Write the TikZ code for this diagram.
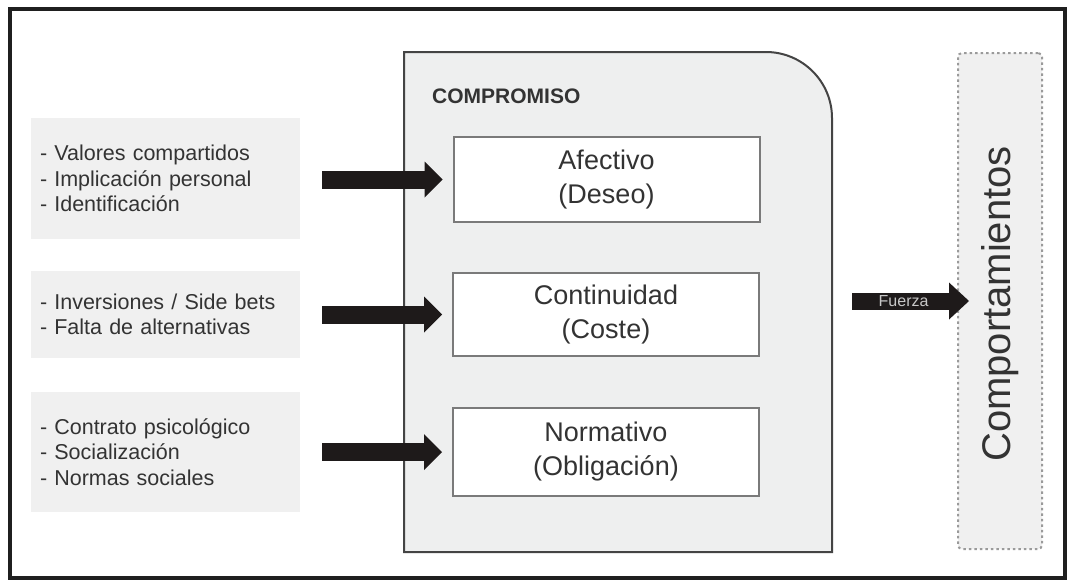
\documentclass[tikz,border=0pt]{standalone}
\usepackage{fontspec}
\setmainfont{Liberation Sans}
\usetikzlibrary{arrows.meta}
\definecolor{txt}{HTML}{333333}
\definecolor{lightfill}{HTML}{F0F0F0}
\definecolor{mainfill}{HTML}{EEEFEF}
\definecolor{mainedge}{HTML}{444444}
\definecolor{inneredge}{HTML}{7A7A7A}
\definecolor{dotedge}{HTML}{9A9A9A}
\definecolor{arrowc}{HTML}{1E1A1A}
\begin{document}
\begin{tikzpicture}[x=1pt,y=-1pt,
  srcbox/.style={fill=lightfill, draw=none, minimum width=269pt, inner xsep=9pt, inner ysep=0pt,
    text width=251pt, align=left, text=txt, font=\fontsize{21.5}{25.5}\selectfont},
  factorbox/.style={fill=white, draw=inneredge, line width=2pt, minimum width=306pt, minimum height=85pt,
    inner sep=0pt, align=center, text=txt, font=\fontsize{27}{34}\selectfont},
  bigarrow/.style={draw=arrowc, line width=18pt, -{Triangle[length=18pt,width=36pt,line width=0pt]}},
  forcearrow/.style={draw=arrowc, line width=17pt, -{Triangle[length=20pt,width=37pt,line width=0pt]}}
]
\useasboundingbox (0,0) rectangle (1068,581);
\fill[white] (0,0) rectangle (1068,581);
\draw[line width=4pt, draw=black!88] (10,9) rectangle (1065,578);

% source boxes
\node[srcbox, minimum height=121pt] (l1) at (165.5,178.5) {- Valores compartidos\\- Implicación personal\\- Identificación};
\node[srcbox, minimum height=87pt] (l2) at (165.5,314.5) {- Inversiones / Side bets\\- Falta de alternativas};
\node[srcbox, minimum height=120pt] (l3) at (165.5,452) {- Contrato psicológico\\- Socialización\\- Normas sociales};

% main COMPROMISO box
\node[minimum width=428pt, minimum height=500pt, inner sep=0pt] (comp) at (618,302) {};
\draw[fill=mainfill, draw=mainedge, line width=2pt]
  (404,552) -- (404,52) -- (766,52) .. controls (802.4,52) and (832,81.6) .. (832,118) -- (832,552) -- cycle;
\node[anchor=base west, inner sep=0pt, text=txt, font=\bfseries\fontsize{21}{25}\selectfont] (title) at (432,103) {COMPROMISO};

\node[factorbox] (a) at (606.5,179.5) {Afectivo\\(Deseo)};
\node[factorbox, minimum height=83pt] (b) at (606,314.5) {Continuidad\\(Coste)};
\node[factorbox, minimum height=88pt] (c) at (606,452) {Normativo\\(Obligación)};

% behaviour box
\node[fill=lightfill, draw=dotedge, line width=2pt, dash pattern=on 2.5pt off 3pt, rounded corners=4pt,
  minimum width=84pt, minimum height=496pt, inner sep=0pt] (beh) at (1000,301) {};
\node[rotate=90, text=txt, font=\fontsize{40}{44}\selectfont, inner sep=0pt] (behtxt) at (1000,304) {Comportamientos};

% arrows
\draw[bigarrow] ([xshift=22pt]l1.east |- a.west) -- ([xshift=-10pt]a.west);
\draw[bigarrow] ([xshift=22pt]l2.east |- b.west) -- ([xshift=-10pt]b.west);
\draw[bigarrow] ([xshift=22pt]l3.east |- c.west) -- ([xshift=-10pt]c.west);
\draw[forcearrow] ([xshift=20pt,yshift=1pt]comp.east) -- ([xshift=12pt]beh.west)
  node[pos=0.44, text=black!22, font=\fontsize{16}{18}\selectfont, inner sep=0pt] {Fuerza};
\end{tikzpicture}
\end{document}
